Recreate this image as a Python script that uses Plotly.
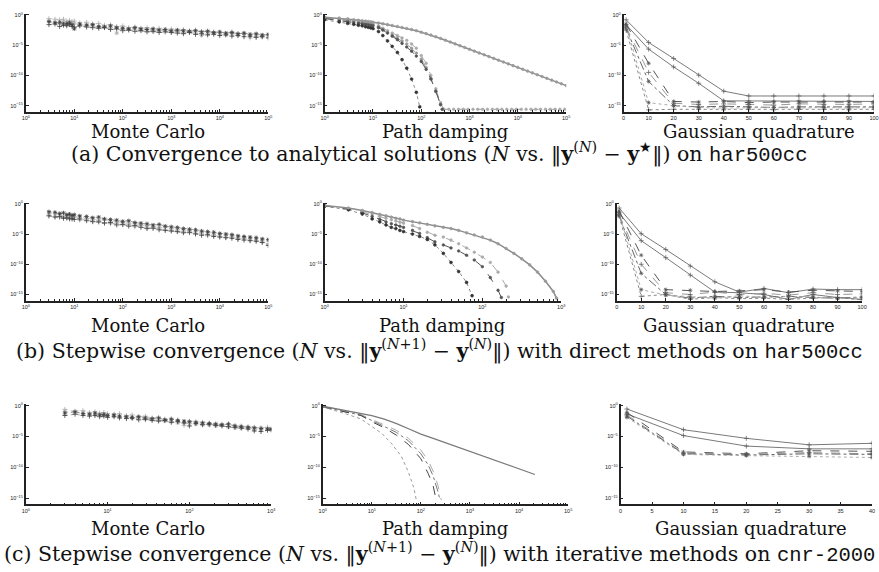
import plotly.graph_objects as go

W, H = 879, 572

# ------------------------------------------------------------------ data
# Monte Carlo, rows (a) and (b): sample counts N and log10 of the error
mc_ab_N = [3, 4, 5, 6, 7, 8, 9, 10, 13, 18, 24, 32, 42, 56, 75, 100, 133, 178, 237, 316,
           422, 562, 750, 1000, 1334, 1778, 2371, 3162, 4217, 5623, 7499, 10000, 13335,
           17783, 23714, 31623, 42170, 56234, 74989, 100000]
mc_a_s1 = [-1.6, -1.5, -1.9, -1.7, -1.8, -1.6, -1.9, -2.0, -1.8, -2.0, -2.1, -2.2, -2.1, -2.4, -2.3, -2.6,
           -2.5, -2.7, -2.6, -2.8, -2.7, -2.9, -2.8, -2.9, -3.0, -3.1, -2.9, -3.2, -3.1, -3.3, -3.2, -3.4,
           -3.3, -3.5, -3.4, -3.6, -3.5, -3.7, -3.6, -3.8]
mc_a_s2 = [-1.1, -1.3, -1.2, -1.5, -1.4, -1.3, -1.6, -2.3, -1.5, -1.7, -1.6, -1.9, -2.0, -1.8, -2.1, -2.2,
           -2.3, -2.1, -2.3, -2.4, -2.3, -2.5, -2.4, -2.6, -2.5, -2.6, -2.7, -2.6, -2.8, -2.7, -2.9, -2.8,
           -3.0, -2.9, -3.1, -3.0, -3.2, -3.1, -3.3, -3.2]
mc_a_s3 = [-0.6, -0.7, -0.8, -0.7, -1.0, -0.9, -1.1, -1.0, -1.3, -1.2, -1.5, -1.4, -1.7, -1.6, -1.9, -1.8,
           -2.1, -2.0, -2.2, -2.1, -2.3, -2.2, -2.4, -2.3, -2.5, -2.4, -2.6, -2.5, -2.7, -2.6, -2.8, -2.9,
           -3.0, -2.8, -3.1, -3.0, -3.8, -3.6, -3.4, -3.3]
mc_a_s4 = [-1.0, -1.2, -1.4, -1.1, -1.6, -1.3, -1.5, -1.4, -1.7, -1.6, -1.8, -2.0, -1.9, -2.1, -3.0, -2.2,
           -2.4, -2.3, -2.5, -2.4, -2.7, -2.5, -2.6, -2.8, -2.7, -2.9, -2.8, -3.0, -3.4, -3.1, -3.0, -3.2,
           -3.3, -3.1, -3.4, -3.2, -3.5, -3.3, -3.6, -3.4]

mc_b_s1 = [-2.0, -2.2, -2.1, -2.4, -2.3, -2.5, -2.4, -2.6, -2.5, -2.8, -2.9, -3.0, -3.2, -3.1, -3.5, -3.4,
           -3.7, -3.6, -3.9, -4.1, -4.0, -4.3, -4.4, -4.5, -4.6, -4.8, -4.7, -5.0, -5.2, -5.1, -5.4, -5.5,
           -5.6, -5.7, -5.9, -6.0, -6.1, -6.2, -6.4, -6.9]
mc_b_s2 = [-1.3, -1.4, -1.6, -1.5, -1.8, -1.7, -1.9, -1.8, -2.0, -2.1, -2.3, -2.2, -2.5, -2.6, -2.7, -2.9,
           -2.8, -3.1, -3.2, -3.3, -3.5, -3.4, -3.7, -3.8, -3.9, -4.1, -4.2, -4.3, -4.5, -4.6, -4.7, -4.9,
           -5.0, -5.1, -5.3, -5.4, -5.5, -5.6, -5.8, -5.9]
mc_b_s3 = [-1.9, -2.1, -2.3, -2.0, -2.4, -2.2, -2.6, -2.3, -2.7, -2.5, -3.0, -2.8, -3.1, -3.3, -3.2, -3.5,
           -3.4, -3.8, -3.6, -3.9, -4.1, -4.0, -4.3, -4.4, -4.5, -4.6, -4.8, -4.9, -5.0, -5.3, -5.2, -5.4,
           -5.6, -5.5, -5.8, -5.7, -6.0, -6.1, -6.3, -6.6]
mc_b_s4 = [-1.6, -1.7, -1.8, -2.2, -1.9, -2.0, -2.3, -2.1, -2.2, -2.4, -2.5, -2.7, -2.6, -2.9, -3.0, -3.1,
           -3.2, -3.3, -3.5, -3.6, -3.7, -3.9, -3.8, -4.1, -4.2, -4.3, -4.4, -4.6, -4.7, -4.8, -5.0, -5.1,
           -5.2, -5.3, -5.5, -5.6, -5.7, -5.8, -6.0, -6.1]

# Monte Carlo, row (c)
mc_c_N = [3, 4, 5, 6, 7, 8, 9, 10, 12, 14, 17, 20, 24, 29, 35, 42, 50, 60, 72, 86, 100, 120, 145,
          175, 210, 250, 300, 360, 430, 520, 620, 750, 900, 1000]
mc_c_s1 = [-1.6, -1.4, -1.6, -1.7, -1.6, -1.8, -1.7, -1.9, -1.8, -2.0, -2.1, -2.0, -2.3, -2.2, -2.4, -2.5,
           -2.4, -2.7, -2.6, -2.8, -3.3, -2.9, -3.1, -3.0, -3.2, -3.3, -3.4, -3.5, -3.6, -3.8, -4.1, -4.2,
           -4.0, -3.9]
mc_c_s2 = [-1.2, -1.0, -1.3, -1.4, -1.2, -1.5, -1.4, -1.6, -1.5, -1.7, -1.8, -1.9, -1.8, -2.0, -2.1, -2.0,
           -2.3, -2.2, -2.4, -2.5, -2.6, -2.7, -2.8, -2.9, -3.0, -3.1, -3.0, -3.3, -3.4, -3.5, -3.6, -3.7,
           -3.8, -3.8]
mc_c_s3 = [-0.6, -0.9, -0.8, -1.1, -1.0, -1.2, -1.1, -1.3, -1.4, -1.3, -1.6, -1.5, -1.8, -1.7, -2.0, -1.9,
           -2.2, -2.1, -2.3, -3.2, -2.5, -2.6, -2.7, -2.8, -2.9, -3.0, -2.9, -3.2, -3.3, -3.4, -3.5, -3.6,
           -3.5, -3.7]
mc_c_s4 = [-0.9, -1.1, -1.2, -1.3, -1.5, -1.4, -1.6, -1.5, -1.7, -1.8, -1.9, -2.1, -2.0, -2.2, -2.3, -2.4,
           -2.5, -2.6, -2.8, -2.7, -2.9, -3.0, -3.1, -3.2, -3.3, -3.2, -3.5, -3.6, -3.7, -3.6, -3.8, -3.9,
           -3.7, -4.0]

# Path damping, row (a)
pd_a_solid_N = [1, 2, 3, 4, 5, 6, 7, 8, 9, 10, 13, 16, 20, 25, 32, 40, 50, 63, 79, 100, 126, 158, 200,
                251, 316, 398, 501, 631, 794, 1000, 1259, 1585, 1995, 2512, 3162, 3981, 5012, 6310,
                7943, 10000, 12589, 15849, 19953, 25119, 31623, 39811, 50119, 63096, 79433, 100000]
pd_a_solid = [-0.38, -0.52, -0.65, -0.78, -0.88, -0.95, -1.02, -1.08, -1.14, -1.2, -1.33, -1.45, -1.6,
              -1.75, -1.9, -2.07, -2.23, -2.4, -2.6, -2.85, -3.08, -3.32, -3.6, -3.88, -4.18, -4.48,
              -4.78, -5.08, -5.38, -5.68, -5.98, -6.28, -6.58, -6.88, -7.18, -7.48, -7.78, -8.08,
              -8.38, -8.68, -8.98, -9.28, -9.58, -9.88, -10.18, -10.48, -10.78, -11.08, -11.38, -11.68]
pd_a_light_N = [1, 2, 3, 4, 5, 6, 7, 8, 9, 10, 13, 16, 20, 25, 32, 40, 50, 63, 79, 100, 126, 158, 200,
                251, 295, 372, 468, 589, 741, 933, 1175, 1479, 1862, 2344, 2951, 3715, 4677, 5888,
                7413, 9333, 11749, 14791, 18621, 23442, 29512, 37154, 46774, 58884, 74131, 93325]
pd_a_light = [-0.45, -0.65, -0.8, -0.95, -1.05, -1.15, -1.25, -1.3, -1.4, -1.5, -1.8, -2.2, -2.6, -3.0,
              -3.4, -3.8, -4.2, -4.8, -5.5, -6.7, -8.0, -10.0, -12.2, -14.5, -15.6, -15.6, -15.6,
              -15.6, -15.6, -15.6, -15.6, -15.6, -15.6, -15.6, -15.6, -15.6, -15.6, -15.6, -15.6,
              -15.6, -15.6, -15.6, -15.6, -15.6, -15.6, -15.6, -15.6, -15.6, -15.6, -15.6]
pd_a_light2_N = [1, 2, 3, 4, 5, 6, 7, 8, 9, 10, 13, 16, 20, 25, 32, 40, 50, 63, 79, 100, 126, 158, 200,
                 251, 280]
pd_a_light2 = [-0.5, -0.75, -0.9, -1.05, -1.15, -1.25, -1.35, -1.45, -1.5, -1.6, -1.95, -2.4, -2.85,
               -3.3, -3.8, -4.3, -4.8, -5.5, -6.3, -7.3, -8.7, -10.5, -12.7, -14.9, -15.6]
pd_a_dark_N = [1, 2, 3, 4, 5, 6, 7, 8, 9, 10, 13, 16, 20, 25, 32, 40, 50, 63, 79, 100, 126, 158, 200,
               251, 270]
pd_a_dark = [-0.6, -0.9, -1.1, -1.25, -1.35, -1.45, -1.55, -1.62, -1.7, -1.8, -2.1, -2.5, -3.0, -3.5,
             -4.1, -4.7, -5.3, -6.0, -6.8, -7.7, -9.0, -10.6, -12.6, -14.8, -15.6]
pd_a_dot_N = [1, 2, 3, 4, 5, 6, 7, 8, 9, 10, 13, 16, 20, 25, 32, 40, 50, 63, 79, 93]
pd_a_dot = [-0.8, -1.15, -1.4, -1.55, -1.7, -1.8, -1.95, -2.05, -2.15, -2.25, -2.75, -3.4, -4.3, -5.2,
            -6.2, -7.4, -8.8, -10.6, -12.8, -15.2]

# Path damping, row (b)
pd_b_solid_N = [1, 2, 3, 4, 5, 6, 7, 8, 9, 10, 13, 16, 20, 25, 32, 40, 50, 63, 79, 100, 126, 158, 200,
                251, 316, 398, 501, 631, 794, 871]
pd_b_solid = [-0.3, -0.7, -1.1, -1.45, -1.75, -2.0, -2.2, -2.4, -2.5, -2.7, -2.95, -3.15, -3.4, -3.65,
              -3.9, -4.1, -4.4, -4.8, -5.15, -5.5, -6.0, -6.6, -7.4, -8.2, -9.1, -10.1, -11.3, -12.8,
              -14.5, -15.6]
pd_b_light_N = [1, 2, 3, 4, 5, 6, 7, 8, 9, 10, 13, 16, 20, 25, 32, 40, 50, 63, 79, 100, 126, 158, 200, 214]
pd_b_light = [-0.3, -0.85, -1.35, -1.75, -2.1, -2.4, -2.65, -2.85, -3.05, -3.2, -3.6, -4.1, -4.7, -5.2,
              -5.5, -6.0, -6.6, -7.3, -8.0, -8.8, -9.7, -11.3, -13.6, -15.4]
pd_b_dark_N = [1, 2, 3, 4, 5, 6, 7, 8, 9, 10, 13, 16, 20, 25, 32, 40, 50, 63, 79, 100, 126, 158, 174]
pd_b_dark = [-0.35, -0.9, -1.5, -2.1, -2.6, -3.0, -3.3, -3.5, -3.7, -3.9, -4.4, -4.9, -5.6, -6.3, -6.8,
             -7.3, -7.8, -8.5, -9.3, -10.4, -12.2, -14.3, -15.5]
pd_b_dot_N = [1, 2, 3, 4, 5, 6, 7, 8, 9, 10, 13, 16, 20, 25, 32, 40, 50, 63, 74]
pd_b_dot = [-0.4, -1.0, -1.7, -2.5, -3.0, -3.5, -3.9, -4.1, -4.4, -4.6, -5.0, -5.4, -5.9, -6.8, -8.2,
            -9.7, -11.2, -13.0, -15.2]

# Path damping, row (c)
pd_c_solid_N = [1, 2, 3, 6, 10, 18, 32, 56, 100, 178, 316, 562, 1000, 1778, 3162, 5623, 10000, 17783, 21000]
pd_c_solid = [-0.1, -0.55, -0.8, -1.25, -1.6, -2.2, -2.9, -3.75, -4.6, -5.3, -6.0, -6.7, -7.4, -8.1,
              -8.8, -9.5, -10.2, -10.95, -11.15]
pd_c_light_N = [1, 2, 3, 6, 10, 18, 32, 56, 100, 141, 178, 224, 260]
pd_c_light = [-0.15, -0.6, -0.9, -1.45, -2.2, -3.1, -4.0, -5.3, -7.2, -8.9, -10.6, -13.0, -15.3]
pd_c_mid_N = [1, 2, 3, 6, 10, 18, 32, 56, 100, 141, 178, 224, 245]
pd_c_mid = [-0.2, -0.7, -1.0, -1.55, -2.4, -3.35, -4.35, -5.7, -7.8, -9.6, -11.4, -14.0, -15.3]
pd_c_dark_N = [1, 2, 3, 6, 10, 18, 32, 56, 100, 141, 178, 205]
pd_c_dark = [-0.2, -0.7, -1.0, -1.6, -2.6, -3.6, -4.8, -6.3, -8.6, -11.0, -13.0, -15.3]
pd_c_dot_N = [1, 2, 3, 6, 10, 16, 25, 40, 56, 71, 81]
pd_c_dot = [-0.2, -0.9, -1.35, -2.15, -3.3, -4.5, -6.1, -8.2, -10.8, -13.2, -15.3]

# Gaussian quadrature
gq_ab_N = [1, 10, 20, 30, 40, 50, 60, 70, 80, 90, 100]
gq_a_solid1 = [-0.8, -4.55, -7.2, -9.95, -12.6, -13.4, -13.4, -13.4, -13.4, -13.4, -13.4]
gq_a_solid2 = [-1.6, -5.65, -8.6, -11.3, -14.2, -14.2, -14.3, -14.2, -14.3, -14.2, -14.3]
gq_a_dash1 = [-1.5, -8.0, -14.3, -14.4, -14.3, -14.5, -14.4, -14.4, -14.3, -14.4, -14.4]
gq_a_dash2 = [-2.0, -9.5, -14.6, -14.8, -14.7, -14.8, -14.9, -14.7, -14.8, -14.8, -14.7]
gq_a_dashdot = [-2.2, -11.0, -15.0, -15.2, -15.1, -15.2, -15.3, -15.2, -15.2, -15.1, -15.2]
gq_a_dot1 = [-1.8, -14.5, -15.0, -15.3, -15.4, -15.3, -15.3, -15.4, -15.3, -15.4, -15.3]
gq_a_dot2 = [-2.5, -15.7, -15.6, -15.6, -15.7, -15.6, -15.7, -15.6, -15.6, -15.7, -15.6]

gq_b_solid1 = [-0.7, -4.95, -7.55, -10.3, -12.9, -14.6, -14.0, -14.7, -14.1, -14.2, -14.2]
gq_b_solid2 = [-1.5, -6.1, -8.9, -11.8, -14.6, -14.7, -15.0, -15.8, -15.0, -15.5, -15.8]
gq_b_dash1 = [-1.2, -8.5, -14.2, -14.3, -14.5, -14.4, -14.2, -14.6, -14.3, -14.4, -14.5]
gq_b_dash2 = [-1.8, -10.0, -14.7, -15.0, -14.6, -15.0, -14.8, -15.1, -14.7, -15.0, -14.9]
gq_b_dashdot = [-2.0, -11.5, -15.0, -15.6, -15.3, -15.5, -15.4, -15.3, -15.5, -15.6, -15.4]
gq_b_dot1 = [-1.5, -14.2, -15.1, -15.4, -15.6, -15.2, -15.5, -15.3, -15.4, -15.7, -15.5]
gq_b_dot2 = [-2.0, -15.3, -15.0, -15.8, -15.5, -15.7, -15.6, -15.8, -15.6, -15.5, -15.9]

gq_c_N = [1, 10, 20, 30, 40]
gq_c_solid1 = [-0.55, -3.9, -5.3, -6.35, -6.1]
gq_c_solid2 = [-1.35, -4.85, -6.55, -7.0, -7.0]
gq_c_dash1 = [-1.1, -7.5, -7.8, -7.3, -7.4]
gq_c_dash2 = [-1.5, -7.7, -7.9, -7.6, -7.8]
gq_c_dashdot = [-1.7, -7.8, -8.0, -7.8, -7.9]
gq_c_dot1 = [-1.9, -7.9, -8.1, -8.2, -8.4]

panel_labels = ["Monte Carlo", "Path damping", "Gaussian quadrature"]
MONO = "<span style=\"font-family:Liberation Mono\">%s</span>"
captions = [
    "(a) Convergence to analytical solutions (<i>N</i> vs. ‖<b>y</b><sup>(<i>N</i>)</sup> − <b>y</b><sup>★</sup>‖) on " + MONO % "har500cc",
    "(b) Stepwise convergence (<i>N</i> vs. ‖<b>y</b><sup>(<i>N</i>+1)</sup> − <b>y</b><sup>(<i>N</i>)</sup>‖) with direct methods on " + MONO % "har500cc",
    "(c) Stepwise convergence (<i>N</i> vs. ‖<b>y</b><sup>(<i>N</i>+1)</sup> − <b>y</b><sup>(<i>N</i>)</sup>‖) with iterative methods on " + MONO % "cnr-2000",
]

# ------------------------------------------------------------------ layout geometry (pixels)
rows_y = [(11.8, 110.1), (201.3, 299.6), (403.8, 504.2)]
cols_x = [
    [(22, 267), (324, 568), (626, 879)],
    [(22, 267), (324, 563), (619, 867)],
    [(22, 270), (322, 570), (623, 877)],
]
xranges = [
    [("log", 0, 5), ("log", 0, 5), ("lin", 0, 100)],
    [("log", 0, 5), ("log", 0, 3), ("lin", 0, 100)],
    [("log", 0, 3), ("log", 0, 5), ("lin", 0, 40)],
]
label_pos = [
    [(145, 130), (446, 130), (763, 130)],
    [(145, 325), (443, 325), (743, 325)],
    [(145, 528), (446, 528), (755, 528)],
]
caption_pos = [(439, 151.5), (440, 349), (440, 553)]

fig = go.Figure()


def axname(k):
    return "" if k == 1 else str(k)


def add(k, xs, ylog, color, dash="solid", width=1.0, symbol=None, msize=4, mcolor=None, mlw=0.7):
    mode = "lines+markers" if symbol else "lines"
    mc = mcolor or color
    fig.add_trace(go.Scatter(
        x=xs, y=[10 ** v for v in ylog], mode=mode,
        xaxis="x" + axname(k), yaxis="y" + axname(k),
        line=dict(color=color, dash=dash, width=width),
        marker=dict(symbol=symbol or "circle", size=msize, color=mc,
                    line=dict(color=mc, width=mlw)),
        showlegend=False, hoverinfo="skip"))


DARK, LIGHT = "#404040", "#ababab"

# Monte Carlo panels (1, 4, 7)
for k, N, series in [(1, mc_ab_N, [mc_a_s1, mc_a_s2, mc_a_s3, mc_a_s4]),
                     (4, mc_ab_N, [mc_b_s1, mc_b_s2, mc_b_s3, mc_b_s4]),
                     (7, mc_c_N, [mc_c_s1, mc_c_s2, mc_c_s3, mc_c_s4])]:
    styles = [(LIGHT, "cross-thin"), (LIGHT, "asterisk"), (DARK, "cross-thin"), (DARK, "asterisk")]
    order = [series[2], series[3], series[0], series[1]]
    for (c, sym), s in zip(styles, order):
        add(k, N, s, c, dash="dot", width=0.5, symbol=sym, msize=3.5, mlw=0.8)

# Path damping (a) panel 2
add(2, pd_a_light_N, pd_a_light, LIGHT, dash="dash", width=1.0, symbol="circle", msize=2.6)
add(2, pd_a_light2_N, pd_a_light2, "#999999", dash="dash", width=1.0, symbol="circle", msize=2.6)
add(2, pd_a_dark_N, pd_a_dark, "#555555", dash="dash", width=1.0, symbol="circle", msize=2.6)
add(2, pd_a_dot_N, pd_a_dot, "#888888", dash="dot", width=1.0, symbol="circle", msize=2.8, mcolor="#333333")
add(2, pd_a_solid_N, pd_a_solid, "#8c8c8c", width=1.5, symbol="circle", msize=2.6, mcolor="#9a9a9a")

# Path damping (b) panel 5
add(5, pd_b_light_N, pd_b_light, LIGHT, dash="dash", width=1.0, symbol="circle", msize=2.6)
add(5, pd_b_dark_N, pd_b_dark, "#555555", dash="dash", width=1.0, symbol="circle", msize=2.6)
add(5, pd_b_dot_N, pd_b_dot, "#888888", dash="dot", width=1.0, symbol="circle", msize=2.8, mcolor="#333333")
add(5, pd_b_solid_N, pd_b_solid, "#8c8c8c", width=1.5, symbol="circle", msize=2.6, mcolor="#9a9a9a")

# Path damping (c) panel 8 (lines only)
add(8, pd_c_light_N, pd_c_light, LIGHT, dash="dash", width=1.0)
add(8, pd_c_mid_N, pd_c_mid, "#777777", dash="dashdot", width=1.0)
add(8, pd_c_dark_N, pd_c_dark, "#444444", dash="dash", width=1.0)
add(8, pd_c_dot_N, pd_c_dot, "#999999", dash="dot", width=1.0)
add(8, pd_c_solid_N, pd_c_solid, "#7a7a7a", width=1.3)

# Gaussian quadrature panels 3, 6, 9
for k, N, sets in [(3, gq_ab_N, [gq_a_solid1, gq_a_solid2, gq_a_dash1, gq_a_dash2, gq_a_dashdot, gq_a_dot1, gq_a_dot2]),
                   (6, gq_ab_N, [gq_b_solid1, gq_b_solid2, gq_b_dash1, gq_b_dash2, gq_b_dashdot, gq_b_dot1, gq_b_dot2]),
                   (9, gq_c_N, [gq_c_solid1, gq_c_solid2, gq_c_dash1, gq_c_dash2, gq_c_dashdot, gq_c_dot1])]:
    gstyles = [("#7a7a7a", "solid", "cross-thin"), ("#7a7a7a", "solid", "cross-thin"),
               ("#555555", "dash", "asterisk"), ("#999999", "dash", "cross-thin"),
               ("#666666", "dashdot", "asterisk"), (LIGHT, "dot", "asterisk"),
               ("#888888", "dot", "cross-thin")]
    for (c, d, sym), s in zip(gstyles, sets):
        add(k, N, s, c, dash=d, width=1.0, symbol=sym, msize=3.5, mcolor="#555555")

# ------------------------------------------------------------------ axes
tickfont = dict(family="Liberation Sans", size=5.5, color="#222222")
layout = dict(width=W, height=H, margin=dict(l=0, r=0, t=0, b=0),
              paper_bgcolor="white", plot_bgcolor="white", showlegend=False)
ytickvals = [1, 1e-5, 1e-10, 1e-15]
yticktext = ["10<sup>0</sup>", "10<sup>−5</sup>", "10<sup>−10</sup>", "10<sup>−15</sup>"]
k = 0
for r in range(3):
    for c in range(3):
        k += 1
        x0, x1 = cols_x[r][c]
        y0, y1 = rows_y[r]
        kind, lo, hi = xranges[r][c]
        xa = dict(domain=[x0 / W, x1 / W], anchor="y" + axname(k), showgrid=False, zeroline=False,
                  showline=True, linecolor="#222222", linewidth=1.6, ticks="inside", ticklen=3,
                  tickwidth=0.8, tickcolor="#222222", tickfont=tickfont, mirror=False, ticklabelstandoff=0)
        if kind == "log":
            xa.update(type="log", range=[lo, hi],
                      tickvals=[10 ** e for e in range(lo, hi + 1)],
                      ticktext=["10<sup>%d</sup>" % e for e in range(lo, hi + 1)],
                      minor=dict(tickvals=[m * 10 ** e for e in range(lo, hi) for m in range(2, 10)],
                                 ticks="inside", ticklen=2, tickwidth=0.6, tickcolor="#222222",
                                 showgrid=False))
        else:
            step = 10 if hi == 100 else 5
            xa.update(type="linear", range=[lo, hi], tickvals=list(range(lo, hi + 1, step)))
        ya = dict(domain=[1 - y1 / H, 1 - y0 / H], anchor="x" + axname(k), type="log",
                  range=[-16, 0.2], showgrid=False, zeroline=False, showline=True,
                  linecolor="#222222", linewidth=1.6, ticks="inside", ticklen=3, tickwidth=0.8,
                  tickcolor="#222222", tickvals=ytickvals, ticktext=yticktext, tickfont=tickfont)
        layout["xaxis" + axname(k)] = xa
        layout["yaxis" + axname(k)] = ya

annotations = []
for r in range(3):
    for c in range(3):
        px, py = label_pos[r][c]
        annotations.append(dict(text=panel_labels[c], x=px / W, y=1 - py / H, xref="paper",
                                yref="paper", xanchor="center", yanchor="middle", showarrow=False,
                                font=dict(family="DejaVu Serif", size=18, color="#111111")))
    px, py = caption_pos[r]
    annotations.append(dict(text=captions[r], x=px / W, y=1 - py / H, xref="paper", yref="paper",
                            xanchor="center", yanchor="middle", showarrow=False,
                            font=dict(family="DejaVu Serif", size=20.5, color="#111111")))
layout["annotations"] = annotations
fig.update_layout(**layout)
fig.write_html("out.html")
